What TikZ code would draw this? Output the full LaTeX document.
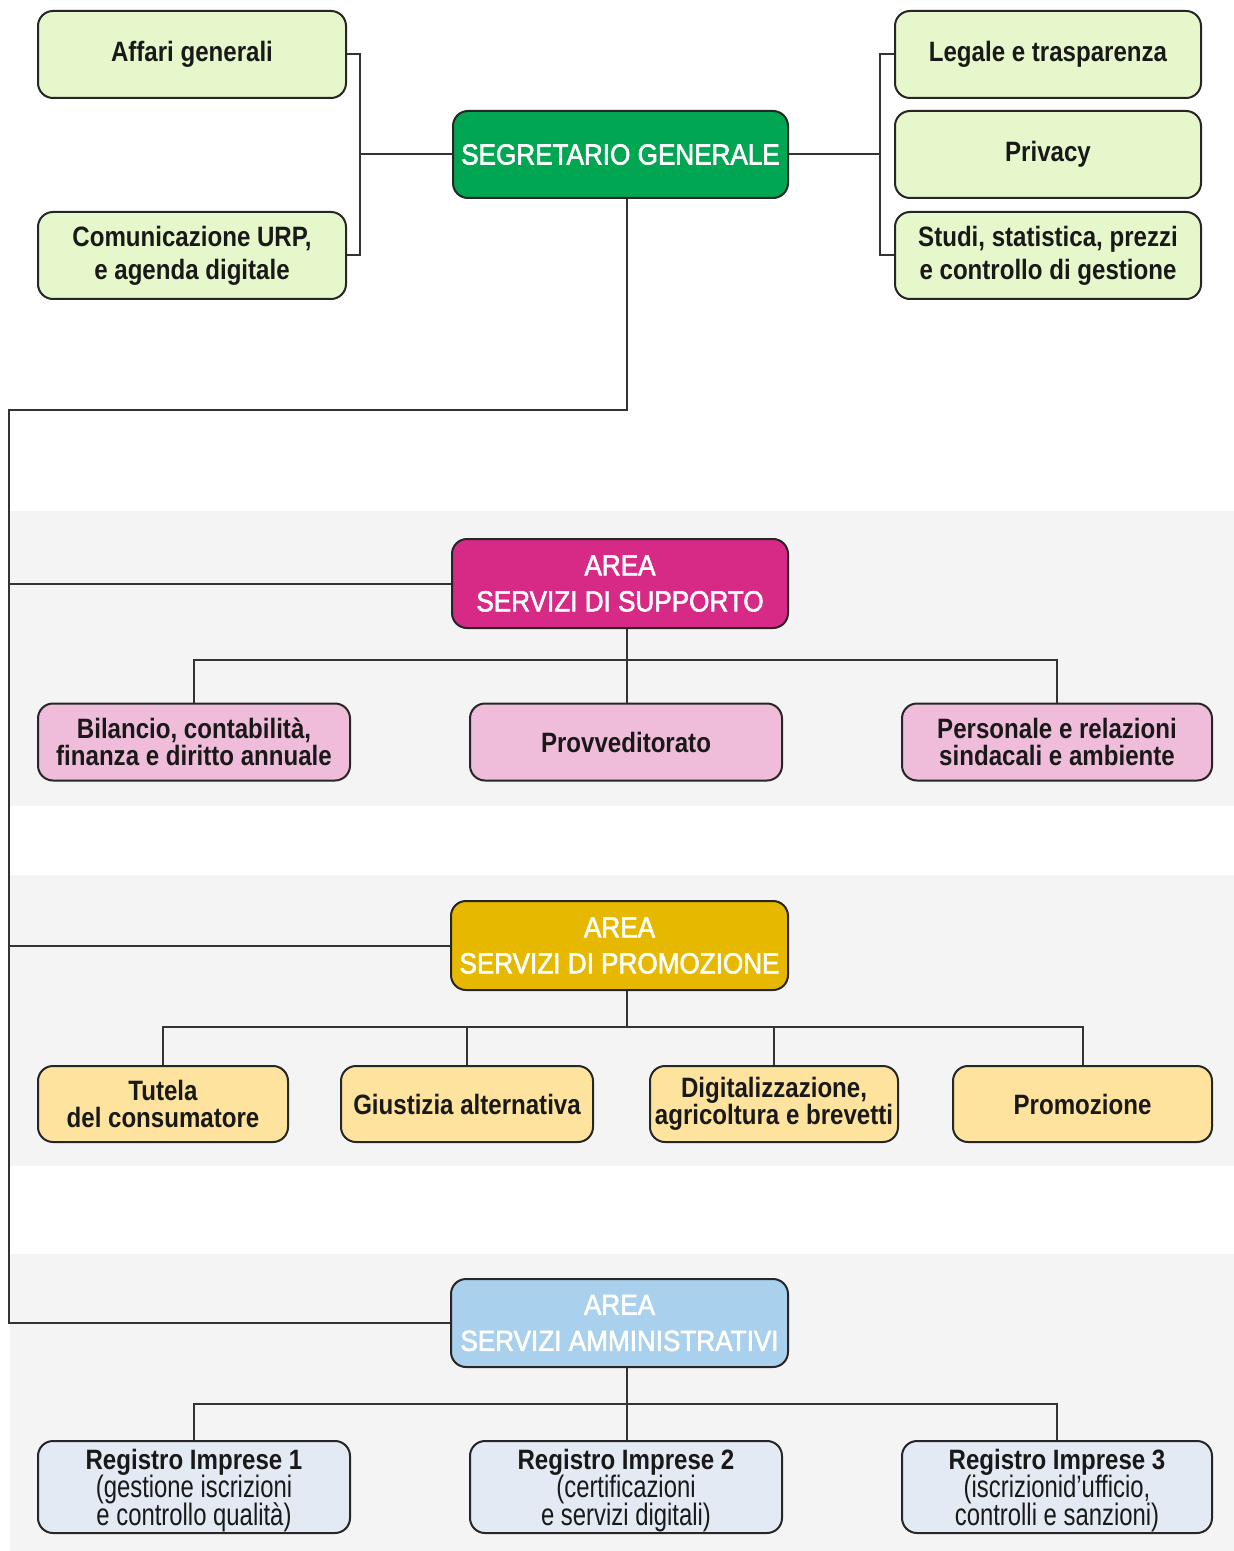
\documentclass[tikz,border=0pt]{standalone}
\usepackage{fontspec}
\setmainfont{Liberation Sans}[FakeStretch=0.86]
\newfontfamily\areafont{Liberation Sans}[FakeStretch=0.9, FakeBold=2]
\newfontfamily\notefont{Liberation Sans}[FakeStretch=0.77]
\newcommand\notesize{\notefont\fontsize{15.5}{14}\selectfont}
\newcommand\tightlines{\lineskiplimit=-20pt\relax\lineskip=0pt\relax}
\newcommand\topstrut{\rule{0pt}{14pt}}
\usetikzlibrary{positioning}
\definecolor{bandgray}{HTML}{F4F4F4}
\definecolor{segreen}{HTML}{00A651}
\definecolor{topgreen}{HTML}{E6F7CB}
\definecolor{supmag}{HTML}{D62A86}
\definecolor{suppink}{HTML}{EFBCDA}
\definecolor{progold}{HTML}{E6B900}
\definecolor{proyellow}{HTML}{FDE39D}
\definecolor{ammblue}{HTML}{A9D0EC}
\definecolor{ammpale}{HTML}{E3EAF4}
\tikzset{
	link/.style={draw=black!80, line width=1pt},
	box/.style={draw=black!85, line width=1pt, rounded corners=7.5pt, align=center, inner sep=0pt,
		text=black!90, font=\fontsize{14}{16.5}\selectfont\bfseries},
	topbox/.style={box, fill=topgreen, minimum width=154pt, minimum height=43.5pt},
	areabox/.style={box, text=white, minimum width=168pt, minimum height=44.5pt,
		font=\areafont\fontsize{14.5}{18}\selectfont},
	supchild/.style={box, fill=suppink, minimum width=156pt, minimum height=38.5pt,
		font=\fontsize{14}{13.5}\selectfont\bfseries},
	prochild/.style={box, fill=proyellow, minimum height=38pt,
		font=\fontsize{14}{13.5}\selectfont\bfseries},
	ammchild/.style={box, fill=ammpale, minimum width=156pt, minimum height=46pt,
		font=\fontsize{14}{14}\selectfont\tightlines}
}
\begin{document}
\begin{tikzpicture}[x=0.5pt, y=-0.5pt]
	\useasboundingbox (0,0) rectangle (1234,1551);
	\fill[white] (0,0) rectangle (1234,1551);
	\fill[bandgray] (10,511) rectangle (1234,806);
	\fill[bandgray] (10,875) rectangle (1234,1166);
	\fill[bandgray] (10,1254) rectangle (1234,1551);
	
	\node[topbox] (aff) at (192,54.5) {Affari generali};
	\node[topbox] (com) at (192,255.5) {Comunicazione URP,\\e agenda digitale};
	\node[areabox, fill=segreen, minimum width=167.5pt, minimum height=43.5pt] (seg) at (620.5,154.5) {SEGRETARIO GENERALE};
	\node[topbox, minimum width=153pt] (leg) at (1048,54.5) {Legale e trasparenza};
	\node[topbox, minimum width=153pt, below=5.5pt of leg] (priv) {Privacy};
	\node[topbox, minimum width=153pt, below=6pt of priv] (stu) {Studi, statistica, prezzi\\e controllo di gestione};
	
	\node[areabox, fill=supmag] (sup) at (620,583.5) {AREA\\SERVIZI DI SUPPORTO};
	\node[supchild] (prov) at (626,742) {Provveditorato};
	\node[supchild, left=59pt of prov] (bil) {Bilancio, contabilità,\\finanza e diritto annuale};
	\node[supchild, minimum width=155pt, right=59pt of prov] (pers) {Personale e relazioni\\sindacali e ambiente};
	
	\node[areabox, fill=progold, minimum width=168.5pt] (pro) at (619.5,945.5) {AREA\\SERVIZI DI PROMOZIONE};
	\node[prochild, minimum width=125pt] (tut) at (163,1104) {Tutela\\del consumatore};
	\node[prochild, minimum width=126pt] (giu) at (467,1104) {Giustizia alternativa};
	\node[prochild, minimum width=124pt] (dig) at (774,1104) {Digitalizzazione,\\agricoltura e brevetti};
	\node[prochild, minimum width=129.5pt] (prm) at (1082.5,1104) {Promozione};
	
	\node[areabox, fill=ammblue, minimum width=168.5pt, minimum height=44pt] (amm) at (619.5,1323) {AREA\\SERVIZI AMMINISTRATIVI};
	\node[ammchild] (ri2) at (626,1487) {\topstrut\textbf{Registro Imprese 2}\\\notesize(certificazioni\\\notesize e servizi digitali)};
	\node[ammchild, left=59pt of ri2] (ri1) {\topstrut\textbf{Registro Imprese 1}\\\notesize(gestione iscrizioni\\\notesize e controllo qualità)};
	\node[ammchild, minimum width=155pt, right=59pt of ri2] (ri3) {\topstrut\textbf{Registro Imprese 3}\\\notesize(iscrizionid’ufficio,\\\notesize controlli e sanzioni)};
	
	\coordinate[left=46pt of seg.west] (lj);
	\coordinate[right=45.5pt of seg.east] (rj);
	\draw[link] (aff.east) -| (lj) |- (com.east);
	\draw[link] (lj) -- (seg.west);
	\draw[link] (leg.west) -| (rj) |- (stu.west);
	\draw[link] (seg.east) -- (rj);
	
	\coordinate (drop) at (627,410);
	\coordinate (trunk) at (9,410);
	\draw[link] (drop |- seg.south) -- (drop) -- (trunk) |- (amm.west);
	\draw[link] (sup.west) -- (sup.west -| trunk);
	\draw[link] (pro.west) -- (pro.west -| trunk);
	
	\coordinate (supj) at (627,660);
	\draw[link] (supj |- sup.south) -- (supj |- prov.north);
	\draw[link] (bil.north) |- (supj) -| (pers.north);
	
	\coordinate (proj) at (627,1027);
	\draw[link] (proj |- pro.south) -- (proj);
	\draw[link] (tut.north) |- (proj) -| (prm.north);
	\draw[link] (giu.north) -- (giu.north |- proj);
	\draw[link] (dig.north) -- (dig.north |- proj);
	
	\coordinate (ammj) at (627,1404);
	\draw[link] (ammj |- amm.south) -- (ammj |- ri2.north);
	\draw[link] (ri1.north) |- (ammj) -| (ri3.north);
\end{tikzpicture}
\end{document}
